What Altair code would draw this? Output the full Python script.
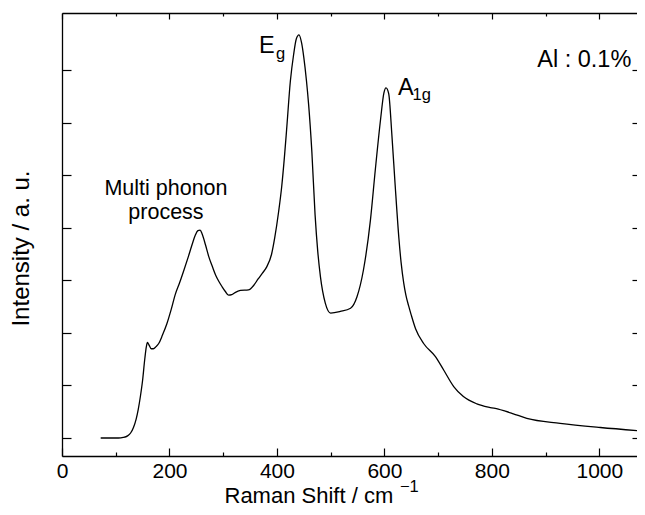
import altair as alt
import pandas as pd

# ---- data ----
raman_shift = [72, 90, 105, 114, 122, 128, 133, 138, 142, 146, 150, 154, 157, 159, 162, 166,
               170, 175, 180, 187, 195, 203, 211, 219, 227, 235, 242, 248, 253, 257, 261, 267,
               273, 280, 286, 292, 298, 304, 310, 316, 322, 332, 347, 357, 365, 373, 381, 390,
               396, 403, 409, 414, 418, 425, 431, 436, 441, 446, 450, 455, 459, 465, 471, 476,
               481, 490, 500, 518, 537, 549, 561, 574, 583, 593, 599, 603, 608, 614, 620, 627,
               631, 636, 640, 645, 650, 658, 673, 695, 710, 729, 747, 772, 797, 812, 825, 840,
               865, 927, 1002, 1085]
intensity = [0.0, 0.0, 0.0, 0.01, 0.04, 0.10, 0.20, 0.36, 0.55, 0.80, 1.10, 1.50, 1.74, 1.82, 1.77, 1.70,
             1.70, 1.74, 1.80, 1.96, 2.17, 2.44, 2.74, 2.96, 3.20, 3.45, 3.68, 3.86, 3.95, 3.96, 3.88, 3.68,
             3.46, 3.26, 3.10, 2.98, 2.88, 2.79, 2.72, 2.73, 2.77, 2.81, 2.82, 2.91, 3.03, 3.14, 3.26, 3.50,
             3.82, 4.30, 4.80, 5.36, 5.87, 6.80, 7.30, 7.60, 7.68, 7.52, 7.25, 6.80, 6.35, 5.45, 4.25, 3.55,
             3.07, 2.57, 2.38, 2.41, 2.47, 2.69, 3.20, 4.15, 5.10, 6.08, 6.57, 6.67, 6.56, 5.76, 4.82, 3.80,
             3.35, 2.95, 2.72, 2.52, 2.34, 2.08, 1.80, 1.55, 1.30, 0.98, 0.79, 0.65, 0.58, 0.55, 0.51, 0.46,
             0.375, 0.28, 0.20, 0.13]

x_major = [0, 200, 400, 600, 800, 1000]
x_minor = [100, 300, 500, 700, 900]
y_ticks = [0, 1, 2, 3, 4, 5, 6, 7]

label_center = ["Multi phonon\nprocess"]
label_center_x = [193.5]
label_center_y = [4.619]

label_main = ["E", "A", "Al : 0.1%"]
label_main_x = [366.4, 625.3, 884.5]
label_main_y = [7.328, 6.533, 7.067]

label_sub = ["g", "1g", "\u22121"]
label_sub_x = [398.3, 652.3, 629]
label_sub_y = [7.219, 6.438, -1.029]

# ---- layout ----
W, H = 575, 443
XDOM = [0, 1070.1]
YDOM = [-0.343, 8.095]
FONT = "Liberation Sans"
FS = 23.5

df = pd.DataFrame({"x": raman_shift, "y": intensity})
df_center = pd.DataFrame({"t": label_center, "x": label_center_x, "y": label_center_y})
df_main = pd.DataFrame({"t": label_main, "x": label_main_x, "y": label_main_y})
df_sub = pd.DataFrame({"t": label_sub, "x": label_sub_x, "y": label_sub_y})

xs = alt.Scale(domain=XDOM, nice=False, zero=False)
ys = alt.Scale(domain=YDOM, nice=False, zero=False)

common = dict(grid=False, labels=False, domain=False, tickColor="black", tickWidth=1.2)

line = alt.Chart(df).mark_line(color="black", strokeWidth=1.3, interpolate="monotone", clip=True).encode(
    x=alt.X("x:Q", scale=xs, axis=alt.Axis(
        orient="bottom", values=x_major, ticks=False, tickSize=0, grid=False,
        labelPadding=21, labelBaseline="alphabetic", labelFontSize=21, labelFont=FONT,
        labelColor="black", labelFlush=False, format="d",
        domainColor="black", domainWidth=1.3,
        title="Raman Shift / cm", titleFont=FONT, titleFontSize=22, titleFontWeight="normal",
        titleColor="black", titleX=162, titleY=46, titleAlign="left", titleBaseline="alphabetic")),
    y=alt.Y("y:Q", scale=ys, axis=alt.Axis(
        orient="left", values=y_ticks, ticks=False, tickSize=0, labels=False, grid=False,
        domainColor="black", domainWidth=1.3,
        title="Intensity / a. u.", titleFont=FONT, titleFontSize=24, titleFontWeight="normal",
        titleColor="black", titleX=-34, titleY=235, titleAngle=270, titleAlign="center",
        titleBaseline="alphabetic")),
)

ghost = alt.Chart(df).mark_line(opacity=0)

# bottom major ticks (pointing up) + left ticks (pointing right)
t1 = ghost.encode(
    x=alt.X("x:Q", scale=xs, axis=alt.Axis(orient="top", offset=-H, values=x_major, tickSize=8, title=None, **common)),
    y=alt.Y("y:Q", scale=ys, axis=alt.Axis(orient="right", offset=-W, values=y_ticks, tickSize=9, title=None, **common)),
)
# bottom minor ticks + right-edge ticks (pointing left)
t2 = ghost.encode(
    x=alt.X("x:Q", scale=xs, axis=alt.Axis(orient="top", offset=-H, values=x_minor, tickSize=4, title=None, **common)),
    y=alt.Y("y:Q", scale=ys, axis=alt.Axis(orient="left", offset=-W, values=y_ticks, tickSize=5, title=None, **common)),
)
# top frame with major ticks pointing down
t3 = ghost.encode(
    x=alt.X("x:Q", scale=xs, axis=alt.Axis(orient="bottom", offset=-H, values=x_major, tickSize=6, title=None,
                                           grid=False, labels=False, domain=True, domainColor="black",
                                           domainWidth=1.3, tickColor="black", tickWidth=1.2)),
    y=alt.Y("y:Q", scale=ys, axis=None),
)
# top minor ticks
t4 = ghost.encode(
    x=alt.X("x:Q", scale=xs, axis=alt.Axis(orient="bottom", offset=-H, values=x_minor, tickSize=3, title=None, **common)),
    y=alt.Y("y:Q", scale=ys, axis=None),
)

txt_center = alt.Chart(df_center).mark_text(align="center", baseline="alphabetic", font=FONT,
                                            fontSize=21.5, color="black", lineBreak="\n",
                                            lineHeight=24).encode(
    x=alt.X("x:Q", scale=xs, axis=None), y=alt.Y("y:Q", scale=ys, axis=None), text="t:N")
txt_main = alt.Chart(df_main).mark_text(align="left", baseline="alphabetic", font=FONT,
                                        fontSize=FS, color="black").encode(
    x=alt.X("x:Q", scale=xs, axis=None), y=alt.Y("y:Q", scale=ys, axis=None), text="t:N")
txt_sub = alt.Chart(df_sub).mark_text(align="left", baseline="alphabetic", font=FONT,
                                      fontSize=16.5, color="black").encode(
    x=alt.X("x:Q", scale=xs, axis=None), y=alt.Y("y:Q", scale=ys, axis=None), text="t:N")

chart = alt.layer(line, t1, t2, t3, t4, txt_center, txt_main, txt_sub).resolve_axis(
    x="independent", y="independent"
).properties(
    width=W, height=H,
    autosize=alt.AutoSizeParams(type="none"),
    padding={"left": 54, "top": 5, "right": 0, "bottom": 51},
    background="white",
).configure_view(stroke=None)

chart.save("out.html", embed_options={"renderer": "svg", "actions": False})
